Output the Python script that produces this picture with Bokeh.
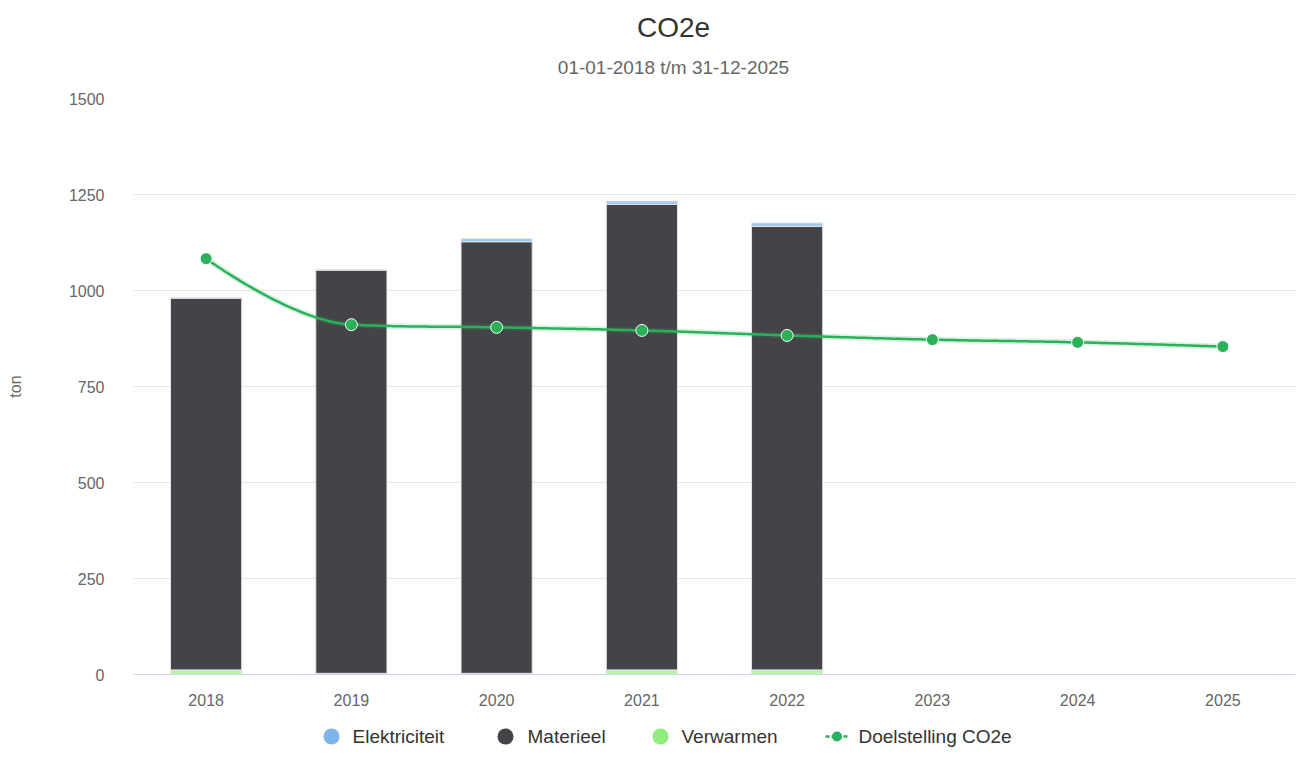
import numpy as np
from bokeh.plotting import figure
from bokeh.models import ColumnDataSource, FixedTicker, Range1d
from bokeh.layouts import column
from bokeh.embed import file_html
from bokeh.resources import INLINE
from bokeh.core.properties import value

# ---------------- data ----------------
years = [2018, 2019, 2020, 2021, 2022, 2023, 2024, 2025]
bar_years = [2018, 2019, 2020, 2021, 2022]
verwarmen = [12, 3, 3, 12, 12]
materieel = [968, 1050, 1124, 1212, 1155]
elektriciteit = [2, 2, 8, 9, 9]
doelstelling = [1083, 911, 904, 896, 883, 872, 865, 854]
y_ticks = [0, 250, 500, 750, 1000, 1250, 1500]
series_names = ["Elektriciteit", "Materieel", "Verwarmen", "Doelstelling CO2e"]

title_text = "CO2e"
subtitle_text = "01-01-2018 t/m 31-12-2025"
y_label = "ton"

# ---------------- styles ----------------
C_ELEK = "#7cb5ec"
C_MAT = "#434348"
C_VERW = "#90ed7d"
C_LINE = "#2bb15a"
FONT = "Liberation Sans"

W = 1295
LEFT = 133
H_TITLE = 80
H_MAIN = 630
H_LEG = 39


def highcharts_spline(xs, ys, smoothing=1.5, n=40):
    """Highcharts-style spline through the data points (bezier segments)."""
    xs = list(map(float, xs)); ys = list(map(float, ys))
    m = len(xs)
    lc = [(xs[i], ys[i]) for i in range(m)]
    rc = [(xs[i], ys[i]) for i in range(m)]
    d = smoothing + 1
    for i in range(1, m - 1):
        x, y = xs[i], ys[i]
        lx, ly = xs[i - 1], ys[i - 1]
        nx, ny = xs[i + 1], ys[i + 1]
        lcx = (smoothing * x + lx) / d
        lcy = (smoothing * y + ly) / d
        rcx = (smoothing * x + nx) / d
        rcy = (smoothing * y + ny) / d
        if rcx != lcx:
            corr = ((rcy - lcy) * (rcx - x)) / (rcx - lcx) + y - rcy
            lcy += corr
            rcy += corr
        if lcy > ly and lcy > y:
            lcy = max(ly, y); rcy = 2 * y - lcy
        elif lcy < ly and lcy < y:
            lcy = min(ly, y); rcy = 2 * y - lcy
        if rcy > ny and rcy > y:
            rcy = max(ny, y); lcy = 2 * y - rcy
        elif rcy < ny and rcy < y:
            rcy = min(ny, y); lcy = 2 * y - rcy
        lc[i] = (lcx, lcy)
        rc[i] = (rcx, rcy)
    outx, outy = [xs[0]], [ys[0]]
    t = np.linspace(0, 1, n)[1:]
    for i in range(1, m):
        p0 = (xs[i - 1], ys[i - 1]); p1 = rc[i - 1]; p2 = lc[i]; p3 = (xs[i], ys[i])
        bx = (1 - t) ** 3 * p0[0] + 3 * (1 - t) ** 2 * t * p1[0] + 3 * (1 - t) * t ** 2 * p2[0] + t ** 3 * p3[0]
        by = (1 - t) ** 3 * p0[1] + 3 * (1 - t) ** 2 * t * p1[1] + 3 * (1 - t) * t ** 2 * p2[1] + t ** 3 * p3[1]
        outx.extend(bx.tolist()); outy.extend(by.tolist())
    return outx, outy


def strip(height):
    # frame gets aligned with the main plot's frame (left border LEFT),
    # so x data units equal pixel columns of the page
    f = figure(width=W, height=height, output_backend="svg", toolbar_location=None,
               x_range=Range1d(LEFT, W), y_range=Range1d(0, height),
               min_border=0, min_border_left=LEFT, min_border_right=0,
               min_border_top=0, min_border_bottom=0)
    f.axis.visible = False
    f.grid.visible = False
    f.outline_line_color = None
    return f


# ---------------- title strip ----------------
tf = strip(H_TITLE)
tf.text(x=[673], y=[H_TITLE - 27], text=[title_text], text_align="center",
        text_baseline="middle", text_font=value(FONT), text_font_size="28px",
        text_color="#333333")
tf.text(x=[673], y=[H_TITLE - 67], text=[subtitle_text], text_align="center",
        text_baseline="middle", text_font=value(FONT), text_font_size="19px",
        text_color="#666666")

# ---------------- main figure ----------------
p = figure(width=W, height=H_MAIN, output_backend="svg", toolbar_location=None,
           x_range=Range1d(2017.5, 2025.5), y_range=Range1d(0, 1500),
           min_border_left=LEFT, min_border_right=0, min_border_top=18, min_border_bottom=36)
p.outline_line_color = None
p.background_fill_color = "white"
p.border_fill_color = "white"

src = ColumnDataSource(dict(x=bar_years, Verwarmen=verwarmen, Materieel=materieel,
                            Elektriciteit=elektriciteit))
p.vbar_stack(["Verwarmen", "Materieel", "Elektriciteit"], x="x", width=0.49, source=src,
             fill_color=[C_VERW, C_MAT, C_ELEK], fill_alpha=[0.65, 1.0, 0.75],
             line_color="#e4e4e4", line_width=1)

sx, sy = highcharts_spline(years, doelstelling)
p.line(sx, sy, line_color=C_LINE, line_width=6, line_alpha=0.18)
p.line(sx, sy, line_color=C_LINE, line_width=2.5)
p.scatter(years, doelstelling, size=12, fill_color=C_LINE, line_color="white", line_width=1)

# axes
p.xgrid.grid_line_color = None
p.ygrid.grid_line_color = "#e6e6e6"
p.ygrid.grid_line_width = 1
p.yaxis.ticker = FixedTicker(ticks=y_ticks)
p.xaxis.ticker = FixedTicker(ticks=years)
p.xaxis.major_label_overrides = {y: str(y) for y in years}
for ax in (p.xaxis, p.yaxis):
    ax.major_tick_line_color = None
    ax.minor_tick_line_color = None
    ax.major_label_text_font = FONT
    ax.major_label_text_font_size = "16px"
    ax.major_label_text_color = "#666666"
p.yaxis.axis_line_color = None
p.yaxis.major_label_standoff = 23
p.yaxis.axis_label = y_label
p.yaxis.axis_label_text_font = FONT
p.yaxis.axis_label_text_font_size = "16px"
p.yaxis.axis_label_text_font_style = "normal"
p.yaxis.axis_label_text_color = "#666666"
p.yaxis.axis_label_standoff = 42
p.xaxis.axis_line_color = "#ccd6eb"
p.xaxis.major_label_standoff = 13

# ---------------- legend strip ----------------
lg = strip(H_LEG)
cy = 13
circle_x = [331, 505, 660]
text_x = [352, 527, 681]
legend_colors = [C_ELEK, C_MAT, C_VERW]
lg.scatter(circle_x, [cy] * 3, size=16, fill_color=legend_colors, line_color=None)
lg.segment(x0=[825], y0=[cy], x1=[848], y1=[cy], line_color=C_LINE, line_width=2.5,
           line_dash="4 2")
lg.scatter([836.5], [cy], size=10, fill_color=C_LINE, line_color=None)
lg.text(x=text_x + [858], y=[cy] * 4, text=series_names, text_baseline="middle",
        text_font=value(FONT), text_font_size="19px", text_color="#333333")

layout = column(tf, p, lg, spacing=0)
open("out.html", "w").write(file_html(layout, INLINE))
